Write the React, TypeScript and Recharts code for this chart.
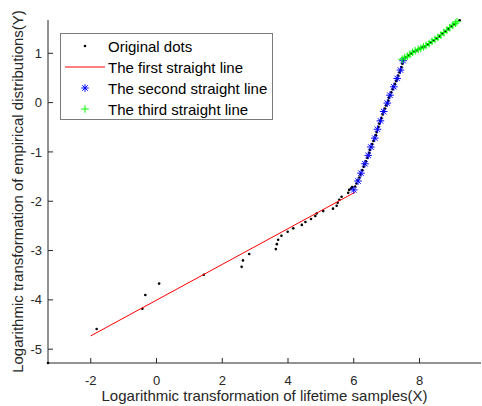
import React from 'react';
import { ComposedChart, Scatter, XAxis, YAxis, Legend } from 'recharts';

const FONT = '"Liberation Sans", Arial, sans-serif';
const AXIS = '#262626';

// tick labels
const xTicks = [-2, 0, 2, 4, 6, 8];
const yTicks = [-5, -4, -3, -2, -1, 0, 1];

// original dots (black)
const dotX = [
  -3.3, -1.82, -0.43, -0.34, 0.08, 1.44, 2.59, 2.63, 2.82, 3.63, 3.66, 3.7, 3.8, 3.99, 4.16,
  4.42, 4.53, 4.7, 4.83, 4.87, 5.07, 5.37, 5.48, 5.51, 5.56, 5.63, 5.83, 5.86,
  5.92, 5.95, 6.04, 6.08, 6.12, 6.17, 6.2, 6.26, 6.3, 6.33, 6.37, 6.41, 6.47, 6.49, 6.53, 6.56, 6.6, 6.64,
  6.67, 6.7, 6.75, 6.78, 6.81, 6.84, 6.88, 6.92, 6.95, 6.98, 7.02, 7.05, 7.07, 7.11, 7.14, 7.18, 7.21,
  7.25, 7.29, 7.32, 7.35, 7.39, 7.42, 7.45, 7.48, 7.52,
  7.58, 7.66, 7.74, 7.83, 7.92, 8.0, 8.08, 8.16, 8.25, 8.34, 8.43, 8.52, 8.61, 8.7, 8.79, 8.88,
  8.98, 9.05, 9.22,
];
const dotY = [
  -5.28, -4.59, -4.18, -3.9, -3.67, -3.49, -3.33, -3.2, -3.07, -2.97, -2.87, -2.78, -2.7, -2.62, -2.55,
  -2.48, -2.42, -2.36, -2.3, -2.25, -2.2, -2.15, -2.09, -2.03, -1.97, -1.91, -1.83, -1.77,
  -1.74, -1.71, -1.7, -1.64, -1.58, -1.52, -1.46, -1.37, -1.3, -1.25, -1.19, -1.12, -1.02, -0.96, -0.9, -0.84, -0.78, -0.72,
  -0.66, -0.6, -0.49, -0.43, -0.37, -0.31, -0.24, -0.18, -0.12, -0.06, -0.01, 0.04, 0.1, 0.15, 0.21, 0.27, 0.32,
  0.38, 0.44, 0.49, 0.55, 0.61, 0.66, 0.72, 0.79, 0.87,
  0.92, 0.96, 0.99, 1.03, 1.06, 1.09, 1.12, 1.14, 1.18, 1.22, 1.26, 1.3, 1.35, 1.4, 1.44, 1.49,
  1.55, 1.59, 1.67,
];

// first straight line (red)
const firstX = [-2, 6.03];
const firstY = [-4.73, -1.82];

// second straight line (blue *)
const secondX = [6.0, 6.13, 6.22, 6.34, 6.44, 6.52, 6.64, 6.72, 6.81, 6.91, 7.02, 7.1, 7.22, 7.32, 7.42, 7.5];
const secondY = [-1.77, -1.59, -1.43, -1.24, -1.07, -0.9, -0.72, -0.54, -0.37, -0.18, -0.01, 0.15, 0.32, 0.49, 0.66, 0.85];

// third straight line (green +)
const thirdX = [7.47, 7.55, 7.63, 7.71, 7.79, 7.87, 7.96, 8.04, 8.12, 8.2, 8.29, 8.38, 8.47, 8.56, 8.65, 8.74, 8.83, 8.92, 9.01, 9.09, 9.14];
const thirdY = [0.88, 0.91, 0.94, 0.98, 1.02, 1.05, 1.08, 1.1, 1.13, 1.16, 1.2, 1.24, 1.28, 1.32, 1.37, 1.42, 1.47, 1.52, 1.57, 1.61, 1.64];

const zip = (xs: number[], ys: number[]) => xs.map((x, i) => ({ x, y: ys[i] }));

const dots = zip(dotX, dotY);
const first = zip(firstX, firstY);
const second = zip(secondX, secondY);
const third = zip(thirdX, thirdY);

const DotShape = (p: any) => <circle cx={p.cx} cy={p.cy} r={1.3} fill="#000" />;

const Star = ({ cx, cy }: { cx: number; cy: number }) => {
  const r = 3.8;
  const d = 2.7;
  return (
    <g stroke="#0000ff" strokeWidth={1}>
      <line x1={cx - r} y1={cy} x2={cx + r} y2={cy} />
      <line x1={cx} y1={cy - r} x2={cx} y2={cy + r} />
      <line x1={cx - d} y1={cy - d} x2={cx + d} y2={cy + d} />
      <line x1={cx - d} y1={cy + d} x2={cx + d} y2={cy - d} />
    </g>
  );
};

const Plus = ({ cx, cy }: { cx: number; cy: number }) => {
  const r = 3.8;
  return (
    <g stroke="#00ff00" strokeWidth={1}>
      <line x1={cx - r} y1={cy} x2={cx + r} y2={cy} />
      <line x1={cx} y1={cy - r} x2={cx} y2={cy + r} />
    </g>
  );
};

const StarShape = (p: any) => <Star cx={p.cx} cy={p.cy} />;
const PlusShape = (p: any) => <Plus cx={p.cx} cy={p.cy} />;
const NoShape = () => <g />;

// inward ticks, MATLAB style
const BottomTick = (p: any) => (
  <g>
    <line x1={p.x} y1={p.y} x2={p.x} y2={p.y - 5} stroke={AXIS} />
    <text x={p.x} y={p.y + 21.5} textAnchor="middle" fill={AXIS} fontSize={13} fontFamily={FONT}>
      {String(p.payload.value)}
    </text>
  </g>
);
const LeftTick = (p: any) => (
  <g>
    <line x1={p.x} y1={p.y} x2={p.x + 5} y2={p.y} stroke={AXIS} />
    <text x={p.x - 6} y={p.y + 4.6} textAnchor="end" fill={AXIS} fontSize={13} fontFamily={FONT}>
      {String(p.payload.value)}
    </text>
  </g>
);
const TopTick = (p: any) => <line x1={p.x} y1={p.y} x2={p.x} y2={p.y + 5} stroke={AXIS} />;
const RightTick = (p: any) => <line x1={p.x} y1={p.y} x2={p.x - 5} y2={p.y} stroke={AXIS} />;

const XLabel = (p: any) => {
  const vb = p.viewBox;
  return (
    <text x={vb.x + vb.width / 2} y={vb.y + 37.5} textAnchor="middle" fill={AXIS} fontSize={15} fontFamily={FONT}>
      Logarithmic transformation of lifetime samples(X)
    </text>
  );
};
const YLabel = (p: any) => {
  const vb = p.viewBox;
  const cy = vb.y + vb.height / 2;
  return (
    <text x={23} y={cy} transform={`rotate(-90, 23, ${cy})`} textAnchor="middle" fill={AXIS} fontSize={15} fontFamily={FONT}>
      Logarithmic transformation of empirical distributions(Y)
    </text>
  );
};

const legendRows = [
  { label: 'Original dots', kind: 'dot' },
  { label: 'The first straight line', kind: 'line' },
  { label: 'The second straight line', kind: 'star' },
  { label: 'The third straight line', kind: 'plus' },
];

const renderLegend = () => (
  <svg width={214} height={88} style={{ display: 'block' }}>
    <rect x={0.5} y={0.5} width={212} height={86} fill="#fff" stroke="#7a7a7a" />
    {legendRows.map((r, i) => {
      const cy = 13 + i * 21;
      return (
        <g key={r.label}>
          {r.kind === 'dot' && <circle cx={25} cy={cy} r={1.3} fill="#000" />}
          {r.kind === 'line' && <line x1={5} y1={cy} x2={45} y2={cy} stroke="#ff0000" />}
          {r.kind === 'star' && <Star cx={25} cy={cy} />}
          {r.kind === 'plus' && <Plus cx={25} cy={cy} />}
          <text x={48} y={cy + 5.5} fill="#000" fontSize={15} fontFamily={FONT}>
            {r.label}
          </text>
        </g>
      );
    })}
  </svg>
);

const xDomain = [-3.3, 9.87];
const yDomain = [-5.28, 1.675];

export default function App() {
  return (
    <div style={{ position: 'absolute', left: 0, top: 0, background: '#fff' }}>
      <ComposedChart width={482} height={406} margin={{ top: 20, right: 1, left: 0, bottom: 0 }}>
        <XAxis
          dataKey="x"
          type="number"
          domain={xDomain}
          ticks={xTicks}
          interval={0}
          height={43}
          tickSize={0}
          tickMargin={0}
          tickLine={false}
          tick={BottomTick}
          axisLine={{ stroke: AXIS }}
          label={XLabel}
        />
        <XAxis
          xAxisId="top"
          orientation="top"
          type="number"
          domain={xDomain}
          ticks={xTicks}
          interval={0}
          height={0}
          tickSize={0}
          tickMargin={0}
          tickLine={false}
          tick={TopTick}
          axisLine={{ stroke: AXIS }}
        />
        <YAxis
          dataKey="y"
          type="number"
          domain={yDomain}
          ticks={yTicks}
          interval={0}
          width={48}
          tickSize={0}
          tickMargin={0}
          tickLine={false}
          tick={LeftTick}
          axisLine={{ stroke: AXIS }}
          label={YLabel}
        />
        <YAxis
          yAxisId="right"
          orientation="right"
          type="number"
          domain={yDomain}
          ticks={yTicks}
          interval={0}
          width={0}
          tickSize={0}
          tickMargin={0}
          tickLine={false}
          tick={RightTick}
          axisLine={{ stroke: AXIS }}
        />
        <Legend
          layout="vertical"
          align="center"
          verticalAlign="middle"
          content={renderLegend}
          wrapperStyle={{ left: 60, top: 33, width: 214, height: 88 }}
        />
        <Scatter name="Original dots" data={dots} shape={DotShape} isAnimationActive={false} />
        <Scatter
          name="The first straight line"
          data={first}
          shape={NoShape}
          line={{ stroke: '#ff0000', strokeWidth: 1 }}
          isAnimationActive={false}
        />
        <Scatter name="The second straight line" data={second} shape={StarShape} isAnimationActive={false} />
        <Scatter name="The third straight line" data={third} shape={PlusShape} isAnimationActive={false} />
      </ComposedChart>
    </div>
  );
}
